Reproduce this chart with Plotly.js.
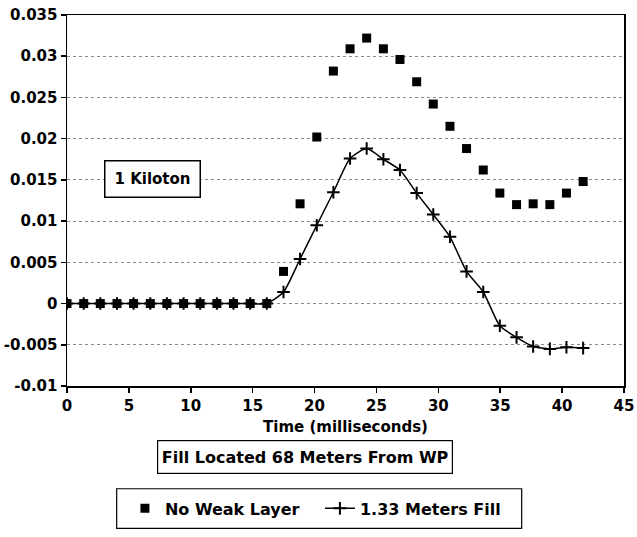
<!DOCTYPE html>
<html>
<head>
<meta charset="utf-8">
<script src="https://cdn.plot.ly/plotly-3.0.1.min.js"></script>
<style>
  html, body { margin: 0; padding: 0; background: #ffffff; }
  #chart { width: 637px; height: 537px; }
</style>
</head>
<body>
<div id="chart"></div>
<script>
// Time in milliseconds
const timeMs = [0, 1.35, 2.69, 4.04, 5.38, 6.73, 8.07, 9.42, 10.76, 12.11, 13.45, 14.8, 16.14,
  17.49, 18.83, 20.18, 21.52, 22.87, 24.21, 25.56, 26.9, 28.25, 29.59, 30.94, 32.28, 33.63,
  34.97, 36.32, 37.66, 39.01, 40.35, 41.7];

// Series 1: No Weak Layer (squares)
const noWeakLayer = [0, 0, 0, 0, 0, 0, 0, 0, 0, 0, 0, 0, 0,
  0.0039, 0.0121, 0.0202, 0.0282, 0.0309, 0.0322, 0.0309, 0.0296, 0.0269, 0.0242, 0.0215,
  0.0188, 0.0162, 0.0134, 0.0120, 0.0121, 0.0120, 0.0134, 0.0148];

// Series 2: 1.33 Meters Fill (line with crosses)
const metersFill = [0, 0, 0, 0, 0, 0, 0, 0, 0, 0, 0, 0, 0,
  0.0014, 0.0054, 0.0095, 0.0135, 0.0176, 0.0188, 0.0175, 0.0162, 0.0134, 0.0108, 0.0081,
  0.0039, 0.0014, -0.0027, -0.0041, -0.0052, -0.0055, -0.0053, -0.0054];

const seriesNames = ["No Weak Layer", "1.33 Meters Fill"];

// Tick labels
const xTickVals = [0, 5, 10, 15, 20, 25, 30, 35, 40, 45];
const yTickVals = [0.035, 0.03, 0.025, 0.02, 0.015, 0.01, 0.005, 0, -0.005, -0.01];
const yTickText = ["0.035", "0.03", "0.025", "0.02", "0.015", "0.01", "0.005", "0", "-0.005", "-0.01"];

const xTitle = "Time (milliseconds)";
const noteKiloton = "1 Kiloton";
const noteFill = "Fill Located 68 Meters From WP";

const FONT = "DejaVu Sans";

const traces = [
  {
    x: timeMs, y: noWeakLayer, name: seriesNames[0],
    type: "scatter", mode: "markers",
    marker: { symbol: "square", size: 9, color: "#000000" },
    legendwidth: 150
  },
  {
    x: timeMs, y: metersFill, name: seriesNames[1],
    type: "scatter", mode: "lines+markers",
    line: { color: "#000000", width: 1.5, shape: "spline", smoothing: 0.6 },
    marker: { symbol: "cross-thin-open", size: 9, color: "#000000",
              line: { color: "#000000", width: 2 } }
  }
];

const layout = {
  width: 637, height: 537,
  margin: { l: 67, r: 13, t: 15, b: 145, pad: 0 },
  paper_bgcolor: "#ffffff", plot_bgcolor: "#ffffff",
  font: { family: FONT, size: 15, color: "#000000", weight: "bold" },
  showlegend: true,
  legend: {
    orientation: "h", x: 0.104, xanchor: "left", y: -0.33, yanchor: "middle",
    bgcolor: "rgba(0,0,0,0)", borderwidth: 0,
    font: { family: FONT, size: 16, color: "#000000", weight: "bold" }
  },
  xaxis: {
    range: [0, 45], tickvals: xTickVals, ticks: "outside", ticklen: 5, tickwidth: 1.5,
    tickcolor: "#000000",
    showline: true, linecolor: "#000000", linewidth: 1.5, mirror: true,
    showgrid: false, zeroline: false,
    tickfont: { family: FONT, size: 15, color: "#000000", weight: "bold" },
    title: { text: xTitle, standoff: 8,
             font: { family: FONT, size: 15, color: "#000000", weight: "bold" } }
  },
  yaxis: {
    range: [-0.01, 0.035], tickvals: yTickVals, ticktext: yTickText,
    ticks: "outside", ticklen: 5, tickwidth: 1.5, tickcolor: "#000000",
    ticklabelstandoff: 0,
    showline: true, linecolor: "#000000", linewidth: 1.5, mirror: true,
    showgrid: true, gridcolor: "#8a8a8a", gridwidth: 1, griddash: "3px,3px",
    zeroline: false,
    tickfont: { family: FONT, size: 15, color: "#000000", weight: "bold" }
  },
  annotations: [
    {
      text: noteKiloton, xref: "paper", yref: "paper", x: 0.1535, y: 0.5567,
      xanchor: "center", yanchor: "middle", showarrow: false,
      bgcolor: "#ffffff", bordercolor: "#000000", borderwidth: 1.5, borderpad: 3,
      width: 88, height: 29,
      font: { family: FONT, size: 15, color: "#000000", weight: "bold" }
    },
    {
      text: noteFill, xref: "paper", yref: "paper", x: 0.4273, y: -0.192,
      xanchor: "center", yanchor: "middle", showarrow: false,
      bgcolor: "#ffffff", bordercolor: "#000000", borderwidth: 1.2, borderpad: 2,
      width: 290, height: 28,
      font: { family: FONT, size: 16, color: "#000000", weight: "bold" }
    }
  ],
  shapes: [
    {
      type: "rect", xref: "paper", yref: "paper",
      x0: 0.0892, x1: 0.8163, y0: -0.3840, y1: -0.2770,
      line: { color: "#000000", width: 1.2 }, fillcolor: "rgba(0,0,0,0)"
    }
  ]
};

Plotly.newPlot("chart", traces, layout, { displayModeBar: false, staticPlot: true });
</script>
</body>
</html>
